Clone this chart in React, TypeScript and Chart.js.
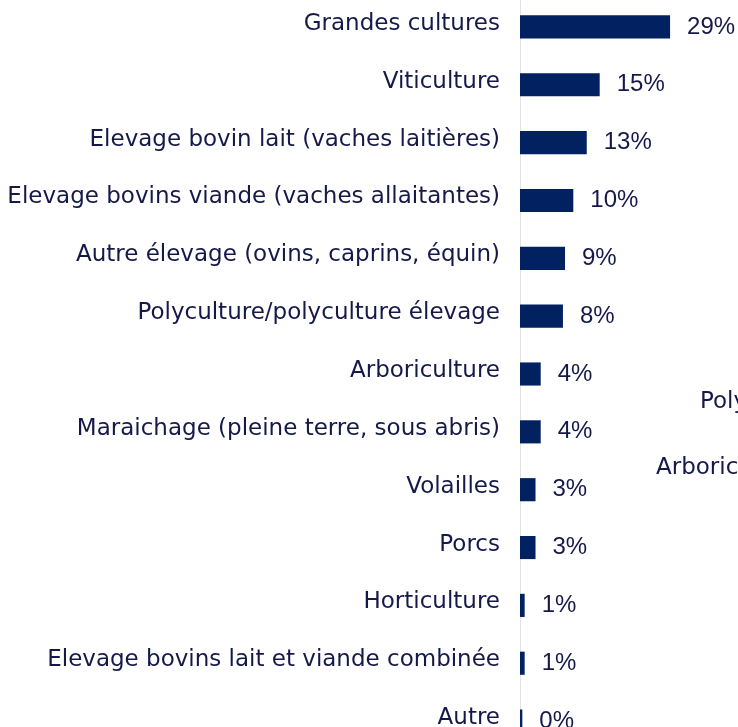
import React, { useEffect, useRef } from "react";
import { Chart, registerables } from "chart.js";

Chart.register(...registerables);

const categories = [
  "Grandes cultures",
  "Viticulture",
  "Elevage bovin lait (vaches laitières)",
  "Elevage bovins viande (vaches allaitantes)",
  "Autre élevage (ovins, caprins, équin)",
  "Polyculture/polyculture élevage",
  "Arboriculture",
  "Maraichage (pleine terre, sous abris)",
  "Volailles",
  "Porcs",
  "Horticulture",
  "Elevage bovins lait et viande combinée",
  "Autre",
];

const values = [29, 15.4, 12.9, 10.3, 8.7, 8.3, 4.0, 4.0, 3.0, 3.0, 0.9, 0.9, 0.45];
const valueLabels = ["29%", "15%", "13%", "10%", "9%", "8%", "4%", "4%", "3%", "3%", "1%", "1%", "0%"];

// clipped labels of a neighbouring chart, visible at the right edge
const strayLabels = ["Polyculture/polyculture élevage", "Arboriculture"];

const BAR_COLOR = "#022160";
const TEXT_COLOR = "#14194a";
const LABEL_FONT = "'DejaVu Sans', sans-serif";

const valueLabelPlugin = {
  id: "valueLabels",
  afterDatasetsDraw(chart: any) {
    const ctx = chart.ctx;
    const meta = chart.getDatasetMeta(0);
    ctx.save();
    ctx.font = "24px 'Liberation Sans', sans-serif";
    ctx.fillStyle = TEXT_COLOR;
    ctx.textAlign = "left";
    ctx.textBaseline = "middle";
    meta.data.forEach((bar: any, i: number) => {
      ctx.fillText(valueLabels[i], bar.x + 17, bar.y);
    });
    ctx.restore();
  },
};

const strayPlugin = {
  id: "strayLabels",
  afterDraw(chart: any) {
    const ctx = chart.ctx;
    const y = chart.scales.y;
    ctx.save();
    ctx.font = "23px " + LABEL_FONT;
    ctx.fillStyle = TEXT_COLOR;
    ctx.textAlign = "left";
    ctx.textBaseline = "middle";
    const p1 = (y.getPixelForValue(6) + y.getPixelForValue(7)) / 2;
    const p2 = (y.getPixelForValue(7) + y.getPixelForValue(8)) / 2;
    ctx.fillText(strayLabels[0], chart.chartArea.left + 180, p1 - 1);
    ctx.fillText(strayLabels[1], chart.chartArea.left + 136, p2 + 7);
    ctx.restore();
  },
};

export default function App() {
  const ref = useRef<HTMLCanvasElement>(null);
  useEffect(() => {
    if (!ref.current) return;
    const chart = new Chart(ref.current, {
      type: "bar",
      data: {
        labels: categories,
        datasets: [
          {
            data: values,
            backgroundColor: BAR_COLOR,
            barPercentage: 0.4,
            categoryPercentage: 1,
          },
        ],
      },
      options: {
        indexAxis: "y",
        animation: false,
        responsive: true,
        maintainAspectRatio: false,
        layout: { padding: { left: 0, right: 11, top: 0, bottom: 0 } },
        plugins: { legend: { display: false }, tooltip: { enabled: false } },
        scales: {
          x: { display: false, min: 0, max: 40 },
          y: {
            afterFit: (s: any) => {
              s.width = 520;
              s.paddingTop = 0;
              s.paddingBottom = 0;
            },
            grid: { display: false, drawTicks: false },
            border: { display: true, color: "#e2e2e2", width: 1 },
            ticks: {
              padding: 20,
              labelOffset: -3,
              color: TEXT_COLOR,
              font: { family: LABEL_FONT, size: 23 },
            },
          },
        },
      },
      plugins: [valueLabelPlugin, strayPlugin],
    });
    return () => chart.destroy();
  }, []);
  return (
    <div style={{ position: "fixed", left: 0, top: -2, width: 738, height: 752 }}>
      <canvas ref={ref} />
    </div>
  );
}
